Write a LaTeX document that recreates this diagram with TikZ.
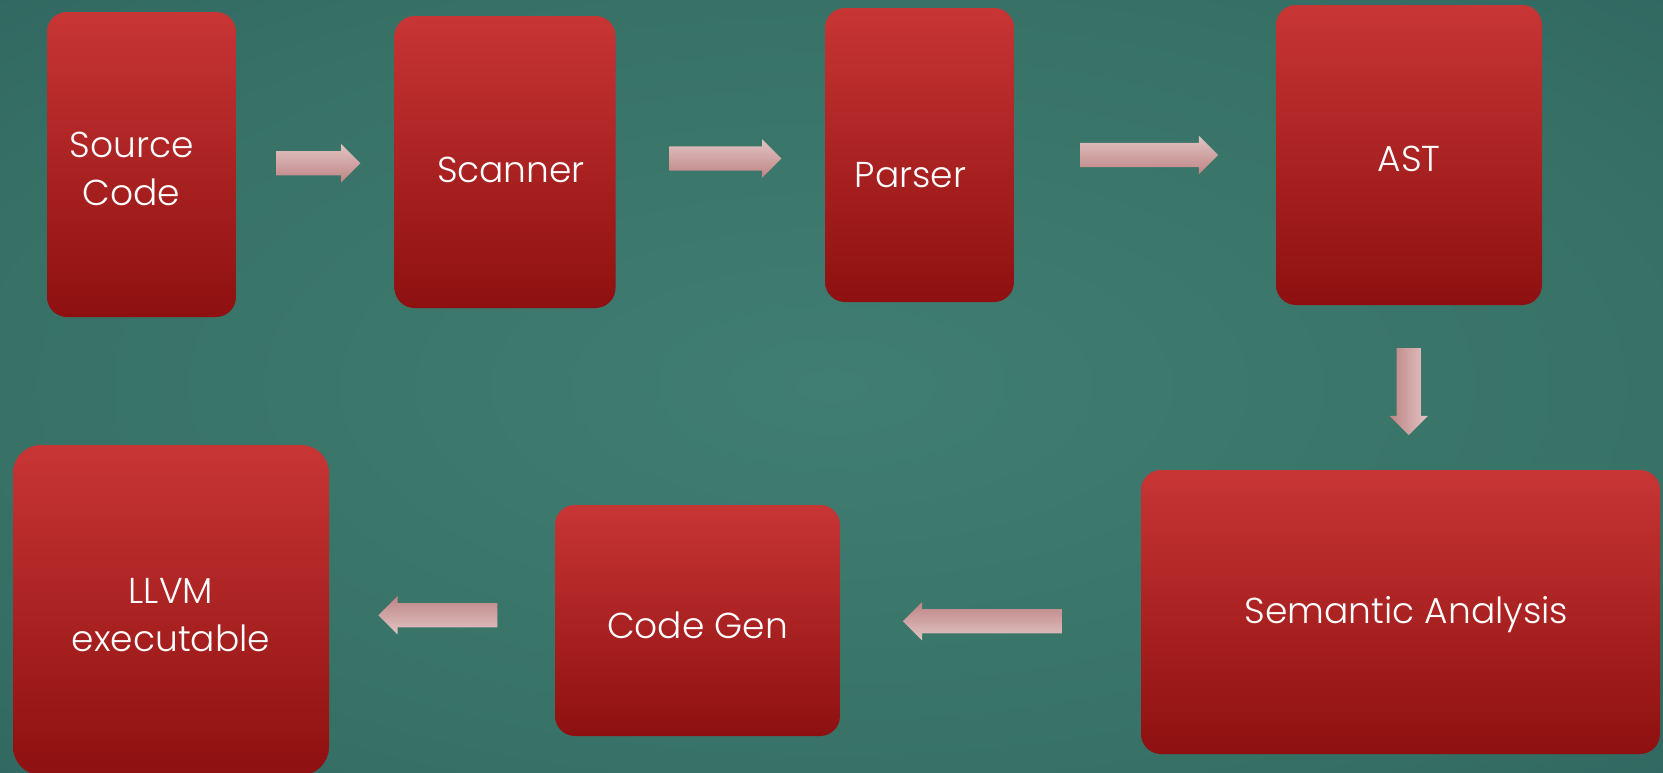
\documentclass[tikz,border=0pt]{standalone}
\usepackage{fontspec}
\setmainfont{Poppins}[UprightFont=* Light]
\usetikzlibrary{shapes.arrows,calc}

\definecolor{boxtop}{HTML}{C83535}
\definecolor{boxbot}{HTML}{8E1010}
\definecolor{arrowlt}{HTML}{E2C4C4}
\definecolor{arrowdk}{HTML}{BE8484}
\definecolor{bgin}{HTML}{407D72}
\definecolor{bgmid}{HTML}{387266}
\definecolor{bgout}{HTML}{1F5057}
\pgfdeclareradialshading{slidebg}{\pgfpoint{0bp}{0bp}}{color(0bp)=(bgin); color(25bp)=(bgmid); color(64bp)=(bgout)}

\begin{document}
\begin{tikzpicture}[x=1pt,y=-1pt,
    stage/.style={rounded corners=20pt,top color=boxtop,bottom color=boxbot,inner sep=0pt},
    txt/.style={text=white,align=center,font=\fontsize{36}{48}\selectfont},
    flow/.style={single arrow,single arrow head extend=7pt,inner sep=12pt,top color=arrowlt,bottom color=arrowdk}]
  \useasboundingbox (0,0) rectangle (1663,772);
  \shade[shading=slidebg] (0,0) rectangle (1663,772);

  % top row
  \node[stage,minimum width=189pt,minimum height=305pt,label={[txt,xshift=-10pt,yshift=-4pt]center:Source\\Code}] (src) at (141.5,164.5) {};
  \node[stage,minimum width=221pt,minimum height=292pt,label={[txt,xshift=6pt,yshift=-8pt]center:Scanner}] (scan) at (505,162) {};
  \node[stage,minimum width=189pt,minimum height=294pt,label={[txt,xshift=-9pt,yshift=-20pt]center:Parser}] (pars) at (919.5,155) {};
  \node[stage,minimum width=266pt,minimum height=300pt,label={[txt,yshift=-4pt]center:AST}] (ast) at (1409,155) {};
  % bottom row
  \node[stage,minimum width=519pt,minimum height=284pt,label={[txt,xshift=6pt,yshift=-3pt]center:Semantic Analysis}] (sem) at (1400.5,612) {};
  \node[stage,minimum width=285pt,minimum height=231pt,label={[txt,yshift=-5pt]center:Code Gen}] (cgen) at (697.5,620.5) {};
  \node[stage,rounded corners=28pt,minimum width=316pt,minimum height=330pt,label={[txt,yshift=-5pt]center:LLVM\\executable}] (llvm) at (171,610) {};

  % block arrows between stages
  \node[flow,minimum height=84pt] (a1) at ($(src.east)!0.5!(scan.west)+(-3,0)$) {};
  \node[flow,minimum height=112pt] (a2) at ($(scan.east)!0.5!(pars.west)+(-1,0)$) {};
  \node[flow,minimum height=138pt] (a3) at ($(pars.east)!0.5!(ast.west)+(-2,0)$) {};
  \node[flow,minimum height=87pt,shape border rotate=270,shading angle=-90] (a4) at ($(ast.south)!0.5!(sem.north)+(4,-2)$) {};
  \node[flow,minimum height=159pt,shape border rotate=180,shading angle=180] (a5) at ($(sem.west)!0.5!(cgen.east)+(-2,5)$) {};
  \node[flow,minimum height=119pt,shape border rotate=180,shading angle=180] (a6) at ($(cgen.west)!0.5!(llvm.east)+(2,0)$) {};
\end{tikzpicture}
\end{document}
